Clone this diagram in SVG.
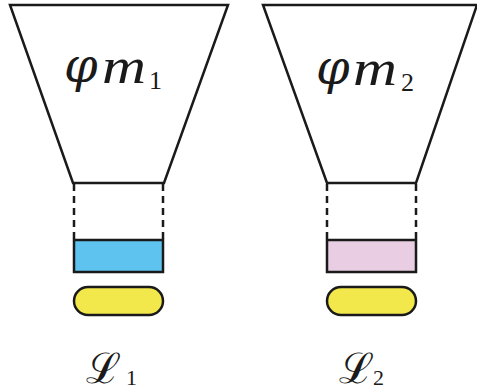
<svg xmlns="http://www.w3.org/2000/svg" width="477" height="392" viewBox="0 0 477 392">
<style>
.edge{fill:none;stroke:#1a1a1a;stroke-width:2.5;stroke-linejoin:miter}
.dash{fill:none;stroke:#1a1a1a;stroke-width:2.5;stroke-dasharray:7,5}
.box{stroke:#1a1a1a;stroke-width:2.5}
.phi{font-family:"DejaVu Serif","Liberation Serif",serif;font-style:italic;fill:#1a1a1a}
.m{font-family:"Liberation Serif","DejaVu Serif",serif;font-style:italic;fill:#1a1a1a}
.cal{font-family:"DejaVu Serif","Liberation Serif",serif;fill:#1a1a1a}
.sub{font-family:"Liberation Serif","DejaVu Serif",serif;fill:#1a1a1a}
</style>
<rect width="477" height="392" fill="#ffffff"/>
<g id="model1">
<polygon class="edge" points="10,5 228,5 164,183 73,183"/>
<text class="phi" x="64" y="82" font-size="48">φ</text>
<text class="m" x="102" y="83" font-size="50" textLength="44" lengthAdjust="spacingAndGlyphs">m</text>
<text class="sub" x="149" y="89" font-size="26">1</text>
</g>
<g id="model2">
<polygon class="edge" points="263,5 477,5 416,183 327,183"/>
<text class="phi" x="316" y="84" font-size="48">φ</text>
<text class="m" x="353" y="85" font-size="50" textLength="44" lengthAdjust="spacingAndGlyphs">m</text>
<text class="sub" x="401" y="91" font-size="26">2</text>
</g>
<g id="head1">
<line class="dash" x1="74" y1="184" x2="74" y2="240"/>
<line class="dash" x1="163" y1="184" x2="163" y2="240"/>
<rect class="box" x="74" y="240" width="89" height="32" fill="#5EC4EF"/>
</g>
<g id="head2">
<line class="dash" x1="327" y1="184" x2="327" y2="240"/>
<line class="dash" x1="416" y1="184" x2="416" y2="240"/>
<rect class="box" x="327" y="240" width="89" height="32" fill="#E9CDE2"/>
</g>
<g id="pill1">
<rect class="box" x="74" y="287" width="89" height="28" rx="14" fill="#F3E84B"/>
</g>
<g id="pill2">
<rect class="box" x="327" y="287" width="89" height="28" rx="14" fill="#F3E84B"/>
</g>
<g id="loss1">
<text class="cal" x="86" y="383" font-size="42">ℒ</text>
<text class="sub" x="126" y="385" font-size="22">1</text>
</g>
<g id="loss2">
<text class="cal" x="339" y="383" font-size="42">ℒ</text>
<text class="sub" x="373" y="385" font-size="22">2</text>
</g>
<g id="connectors"></g>
</svg>
